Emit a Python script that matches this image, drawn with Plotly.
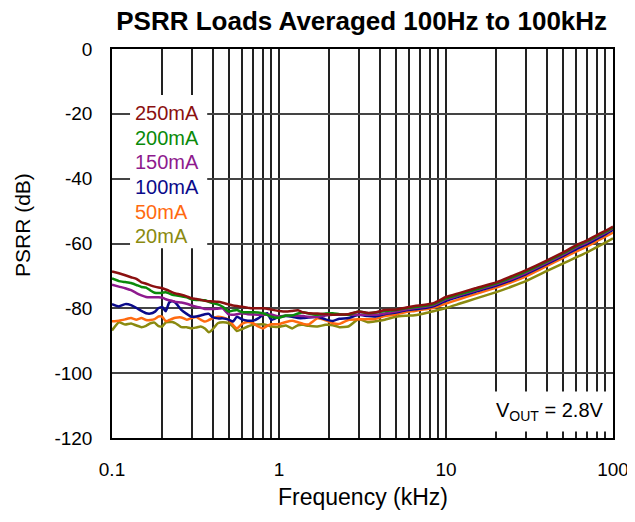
import plotly.graph_objects as go

freq_khz = [0.1, 0.11, 0.12, 0.13, 0.14, 0.15, 0.16, 0.17, 0.18, 0.19, 0.2, 0.21, 0.22, 0.23, 0.24,
            0.26, 0.28, 0.3, 0.32, 0.34, 0.36, 0.38, 0.4, 0.43, 0.46, 0.5, 0.53, 0.56, 0.6, 0.65,
            0.7, 0.75, 0.8, 0.85, 0.9, 1.0, 1.1, 1.2, 1.3, 1.4, 1.5, 1.7, 1.9, 2.1, 2.3, 2.6, 3.0,
            3.4, 3.8, 4.3, 5.0, 5.7, 6.5, 7.5, 8.5, 10, 12, 15, 20, 25, 30, 40, 50, 60, 70, 80, 90, 100]

psrr_250mA = [-68.6, -69.2, -69.8, -70.4, -70.9, -72.0, -72.4, -72.9, -73.3, -73.6, -73.8, -74.2, -74.6, -75.1, -75.4,
              -75.8, -76.3, -76.9, -77.1, -77.4, -77.7, -77.8, -77.9, -78.0, -78.3, -78.8, -79.1, -79.3, -79.5, -79.8,
              -80.0, -80.0, -80.0, -80.1, -80.4, -80.8, -81.0, -80.8, -80.6, -81.3, -81.5, -81.6, -81.8, -82.0, -81.9, -81.8, -81.0,
              -81.4, -81.2, -80.5, -80.4, -79.8, -79.3, -78.9, -78.3, -76.5, -75.3, -73.8, -72.0, -70.0, -68.3, -65.3, -62.8, -60.6, -59.0, -57.4, -56.1, -54.8]

psrr_200mA = [-70.8, -71.6, -71.9, -72.2, -72.8, -73.4, -73.6, -74.5, -75.2, -75.3, -75.2, -75.0, -75.4, -75.8, -76.0,
              -76.3, -76.6, -77.2, -77.4, -77.4, -77.5, -78.0, -78.4, -78.8, -79.5, -81.0, -80.7, -80.5, -81.2, -81.2,
              -81.2, -81.3, -81.5, -82.0, -82.6, -82.9, -82.2, -82.2, -81.6, -81.2, -81.6, -82.0, -81.6, -81.5, -81.8, -82.0, -81.0,
              -81.5, -81.3, -80.8, -80.5, -80.0, -79.6, -79.2, -78.6, -76.9, -75.7, -74.2, -72.3, -70.4, -68.7, -65.6, -63.1, -60.9, -59.3, -57.7, -56.4, -55.1]

psrr_150mA = [-72.7, -73.3, -73.8, -74.4, -75.3, -76.0, -76.5, -76.6, -76.6, -76.6, -76.7, -77.2, -77.5, -77.7, -78.0,
              -78.2, -78.6, -79.1, -79.5, -79.8, -80.2, -80.2, -80.2, -80.1, -80.0, -81.9, -82.0, -81.8, -81.5, -81.8,
              -81.9, -82.0, -82.0, -81.9, -81.9, -82.5, -82.3, -82.2, -82.3, -82.4, -82.6, -82.6, -82.2, -82.0, -82.0, -82.0, -82.0,
              -82.0, -82.0, -81.6, -81.0, -80.4, -79.9, -79.5, -78.9, -77.2, -76.0, -74.5, -72.6, -70.8, -69.1, -66.0, -63.5, -61.3, -59.7, -58.1, -56.7, -55.4]

psrr_100mA = [-78.7, -79.4, -78.7, -79.0, -79.9, -80.8, -81.5, -81.6, -81.1, -79.9, -79.6, -80.9, -78.2, -77.8, -78.3,
              -80.5, -81.7, -82.6, -82.5, -82.2, -81.8, -81.7, -82.7, -83.1, -83.1, -83.5, -84.1, -82.6, -83.4, -83.8,
              -83.8, -83.1, -82.0, -81.5, -83.6, -82.6, -82.4, -82.6, -83.0, -83.0, -82.8, -82.6, -83.4, -83.9, -83.2, -83.0, -82.0,
              -82.4, -82.5, -81.8, -81.3, -80.7, -80.3, -79.9, -79.3, -77.7, -76.4, -74.9, -73.0, -71.2, -69.5, -66.4, -63.9, -61.8, -60.2, -58.6, -57.2, -55.8]

psrr_50mA = [-84.0, -83.8, -83.4, -83.0, -83.5, -83.0, -83.6, -83.6, -83.3, -82.5, -82.6, -84.0, -83.6, -83.2, -82.9,
             -82.8, -83.5, -83.0, -82.7, -83.5, -84.1, -83.6, -83.1, -82.6, -82.8, -83.5, -85.1, -86.2, -84.8, -84.2,
             -84.6, -85.6, -86.2, -85.4, -84.9, -84.9, -84.2, -83.8, -84.3, -84.8, -85.0, -83.1, -83.7, -84.6, -84.8, -83.6, -83.4,
             -83.4, -83.2, -82.4, -81.9, -81.2, -80.8, -80.3, -79.8, -78.5, -77.2, -75.6, -73.6, -71.8, -70.2, -67.0, -64.5, -62.5, -60.9, -59.3, -57.9, -56.6]

psrr_20mA = [-86.8, -84.3, -85.0, -84.7, -85.3, -85.8, -85.4, -84.6, -84.4, -85.5, -85.6, -84.3, -84.2, -84.2, -84.6,
             -85.8, -85.8, -86.2, -85.9, -85.6, -86.2, -87.4, -86.5, -84.6, -84.3, -84.6, -85.6, -87.0, -86.4, -85.6,
             -85.1, -85.0, -84.9, -85.2, -85.6, -85.7, -85.3, -86.2, -85.2, -85.1, -85.4, -85.6, -85.1, -85.2, -85.8, -85.6, -83.3,
             -84.3, -84.0, -83.5, -82.6, -82.3, -82.1, -81.5, -80.8, -79.9, -78.6, -77.0, -75.0, -73.2, -71.6, -68.5, -66.2, -64.3, -62.7, -61.1, -59.7, -58.4]

series_names = ["250mA", "200mA", "150mA", "100mA", "50mA", "20mA"]
series_values = [psrr_250mA, psrr_200mA, psrr_150mA, psrr_100mA, psrr_50mA, psrr_20mA]
series_colors = ["#8B1010", "#0A8A0A", "#8E1A8E", "#0A0A8A", "#FF6A10", "#8A8A10"]

x_major_ticks = [0.1, 1, 10, 100]
x_tick_labels = ["0.1", "1", "10", "100"]
x_minor_ticks = [m * d for d in (0.1, 1, 10) for m in range(2, 10)]
y_ticks = [0, -20, -40, -60, -80, -100, -120]
y_tick_labels = ["0", "-20", "-40", "-60", "-80", "-100", "-120"]

font_family = "Liberation Sans, Arial, Helvetica, sans-serif"

fig = go.Figure()
for name, vals, col in reversed(list(zip(series_names, series_values, series_colors))):
    fig.add_trace(go.Scatter(x=freq_khz, y=vals, mode="lines", name=name,
                             line=dict(color=col, width=2.5, shape="spline", smoothing=0.4),
                             showlegend=False))

# legend as coloured text on a white panel (above the grid)
fig.add_shape(type="rect", xref="paper", yref="paper", x0=0.036, x1=0.19, y0=0.488, y1=0.882,
              fillcolor="white", line=dict(width=0), layer="above")
for i, (name, col) in enumerate(zip(series_names, series_colors)):
    fig.add_annotation(xref="paper", yref="paper", x=0.042, y=0.835 - i * 0.0632,
                       xanchor="left", yanchor="middle", text=name, showarrow=False,
                       font=dict(size=20, color=col, family=font_family))

fig.add_annotation(xref="paper", yref="paper", x=0.998, y=0.068, xanchor="right", yanchor="middle",
                   text="V<sub>OUT</sub> = 2.8V", showarrow=False, bgcolor="white", borderpad=7,
                   font=dict(size=20, color="black", family=font_family))

# axis titles
fig.add_annotation(xref="paper", yref="paper", x=0.5, y=-0.152, xanchor="center", yanchor="middle",
                   text="Frequency (kHz)", showarrow=False, font=dict(size=23, color="black", family=font_family))
fig.add_annotation(xref="paper", yref="paper", x=-0.18, y=0.547, xanchor="center", yanchor="middle",
                   text="PSRR (dB)", textangle=-90, showarrow=False,
                   font=dict(size=21, color="black", family=font_family))

fig.update_layout(
    width=635, height=522,
    margin=dict(l=104, r=30, t=41, b=92, autoexpand=False),
    paper_bgcolor="white", plot_bgcolor="white",
    font=dict(family=font_family, color="black"),
    title=dict(text="<b>PSRR Loads Averaged 100Hz to 100kHz</b>", x=0.557, xanchor="center",
               y=0.975, yanchor="middle", font=dict(size=26, color="black", family=font_family)),
)

fig.update_xaxes(type="log", range=[-1, 2], tickvals=x_major_ticks, ticktext=x_tick_labels,
                 showgrid=True, gridcolor="#222222", gridwidth=1.5, automargin=False,
                 minor=dict(tickvals=x_minor_ticks, showgrid=True, gridcolor="#222222", gridwidth=1.5, ticks=""),
                 showline=True, linecolor="black", linewidth=1.5, mirror=True, ticks="",
                 tickfont=dict(size=19), zeroline=False, ticklabelstandoff=13)
fig.update_yaxes(range=[-120, 0], tickvals=y_ticks, ticktext=y_tick_labels, automargin=False,
                 showgrid=True, gridcolor="#444444", gridwidth=1.5,
                 showline=True, linecolor="black", linewidth=1.5, mirror=True, ticks="",
                 tickfont=dict(size=19), zeroline=False, ticklabelstandoff=14)

fig.write_html("out.html")
